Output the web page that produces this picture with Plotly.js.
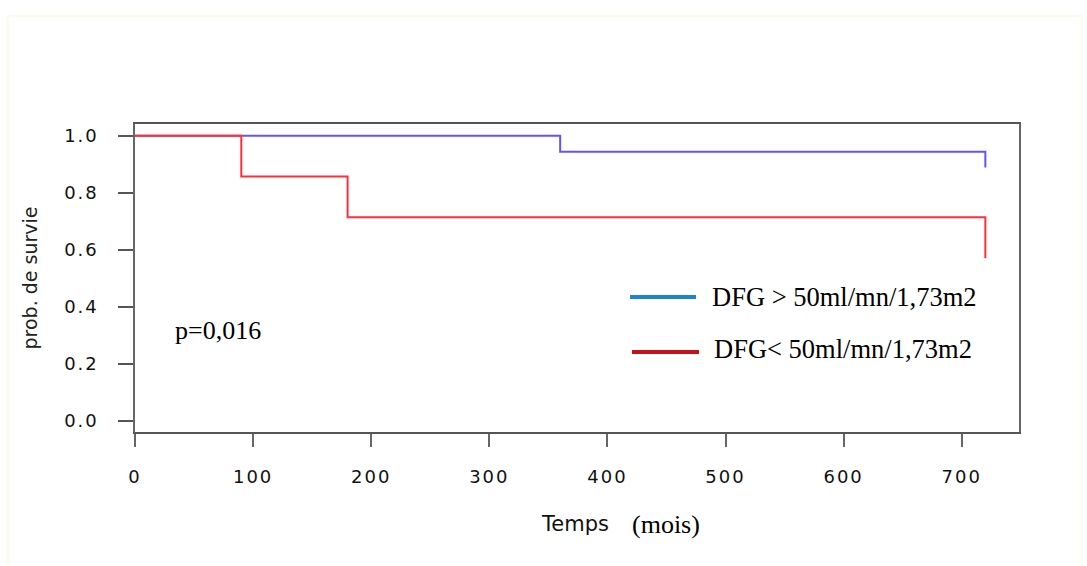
<!DOCTYPE html>
<html>
<head>
<meta charset="utf-8">
<script src="https://cdn.plot.ly/plotly-3.0.1.min.js"></script>
<style>
  html, body { margin: 0; padding: 0; background: #ffffff; }
  #wrap { position: relative; width: 1087px; height: 566px; }
  #frame { position: absolute; left: 7px; top: 15px; width: 1076px; height: 560px;
           border: 2px solid #fffaea; border-bottom: none; box-sizing: border-box; }
  #chart { position: absolute; left: 0; top: 0; width: 1087px; height: 566px; }
  .xtick text { letter-spacing: 2px; }
  .ytick text { letter-spacing: 1.8px; }
</style>
</head>
<body>
<div id="wrap">
  <div id="frame"></div>
  <div id="chart"></div>
</div>
<script>
// Kaplan-Meier survival estimates by renal function group
const timeHigh = [0, 360, 720];
const survHigh = [1.0, 0.944, 0.889];
const timeLow = [0, 90, 180, 720];
const survLow = [1.0, 0.857, 0.714, 0.571];

const labelHigh = 'DFG > 50ml/mn/1,73m2';
const labelLow = 'DFG< 50ml/mn/1,73m2';
const pValueText = 'p=0,016';

const xTicks = [0, 100, 200, 300, 400, 500, 600, 700];
const yTicks = [0.0, 0.2, 0.4, 0.6, 0.8, 1.0];

const serif = 'Liberation Serif, Times New Roman, serif';
const sans = 'DejaVu Sans, Arial, sans-serif';

const traces = [
  {
    x: timeHigh, y: survHigh, type: 'scatter', mode: 'lines',
    line: { shape: 'hv', color: '#6352ff', width: 2 },
    name: labelHigh, showlegend: false, hoverinfo: 'x+y'
  },
  {
    x: timeLow, y: survLow, type: 'scatter', mode: 'lines',
    line: { shape: 'hv', color: '#ff2f3a', width: 2 },
    name: labelLow, showlegend: false, hoverinfo: 'x+y'
  }
];

const layout = {
  width: 1087, height: 566,
  margin: { l: 135, r: 68, t: 124, b: 134 },
  paper_bgcolor: 'rgba(0,0,0,0)',
  plot_bgcolor: '#ffffff',
  showlegend: false,
  xaxis: {
    range: [0, 748.5],
    tickvals: xTicks,
    ticktext: xTicks.map(String),
    ticks: 'outside', ticklen: 13, tickwidth: 2, tickcolor: '#666',
    showline: true, linecolor: '#555', linewidth: 2, mirror: true,
    showgrid: false, zeroline: false,
    ticklabelstandoff: 14,
    tickfont: { family: sans, size: 18, color: '#111' }
  },
  yaxis: {
    range: [-0.038, 1.041],
    tickvals: yTicks,
    ticktext: yTicks.map(v => v.toFixed(1)),
    ticks: 'outside', ticklen: 15, tickwidth: 2, tickcolor: '#555',
    showline: true, linecolor: '#666', linewidth: 2, mirror: true,
    showgrid: false, zeroline: false,
    ticklabelstandoff: 16,
    tickfont: { family: sans, size: 18, color: '#111' },
    title: { text: 'prob. de survie', font: { family: sans, size: 19, color: '#222' }, standoff: 22 }
  },
  shapes: [
    { type: 'line', xref: 'paper', yref: 'paper', x0: 0.560, x1: 0.6346, y0: 0.438, y1: 0.438,
      line: { color: '#1a86d0', width: 4 } },
    { type: 'line', xref: 'paper', yref: 'paper', x0: 0.5622, x1: 0.638, y0: 0.2597, y1: 0.2597,
      line: { color: '#c8101a', width: 4 } }
  ],
  annotations: [
    { text: labelHigh, xref: 'paper', yref: 'paper', x: 0.6505, y: 0.438,
      xanchor: 'left', yanchor: 'middle', showarrow: false,
      font: { family: serif, size: 26.5, color: '#000' } },
    { text: labelLow, xref: 'paper', yref: 'paper', x: 0.6524, y: 0.2695,
      xanchor: 'left', yanchor: 'middle', showarrow: false,
      font: { family: serif, size: 26.5, color: '#000' } },
    { text: pValueText, xref: 'paper', yref: 'paper', x: 0.0427, y: 0.331,
      xanchor: 'left', yanchor: 'middle', showarrow: false,
      font: { family: serif, size: 26, color: '#000' } },
    { text: 'Temps', xref: 'paper', yref: 'paper', x: 0.457, y: -0.30,
      xanchor: 'left', yanchor: 'middle', showarrow: false,
      font: { family: sans, size: 21, color: '#111' } },
    { text: '(mois)', xref: 'paper', yref: 'paper', x: 0.5600, y: -0.30,
      xanchor: 'left', yanchor: 'middle', showarrow: false,
      font: { family: serif, size: 26, color: '#000' } }
  ]
};

Plotly.newPlot('chart', traces, layout, { displayModeBar: false, staticPlot: true });
</script>
</body>
</html>
